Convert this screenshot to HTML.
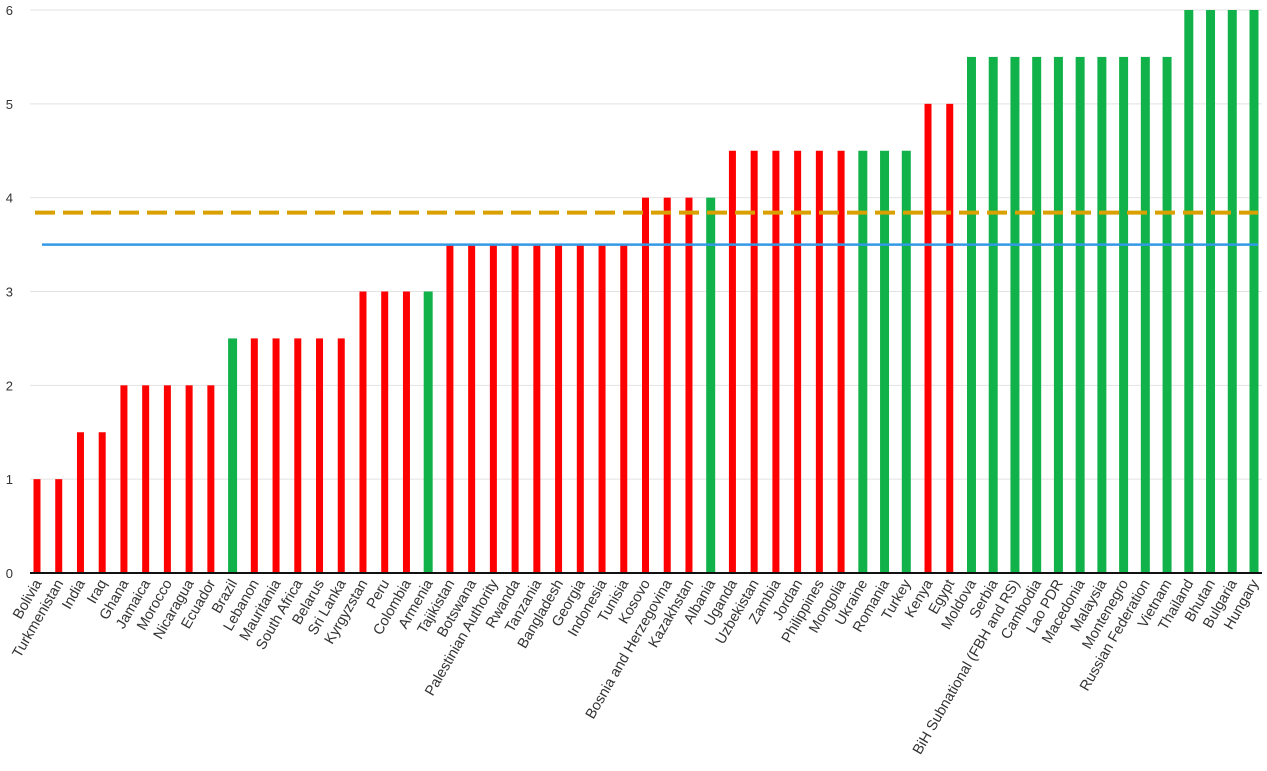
<!DOCTYPE html>
<html><head><meta charset="utf-8"><style>
html,body{margin:0;padding:0;background:#fff;}
svg{display:block;font-family:"Liberation Sans",sans-serif;}
</style></head><body>
<svg id="chart" width="1267" height="771" viewBox="0 0 1267 771"></svg>
<script>
const categories=["Bolivia","Turkmenistan","India","Iraq","Ghana","Jamaica","Morocco","Nicaragua","Ecuador","Brazil","Lebanon","Mauritania","South Africa","Belarus","Sri Lanka","Kyrgyzstan","Peru","Colombia","Armenia","Tajikistan","Botswana","Palestinian Authority","Rwanda","Tanzania","Bangladesh","Georgia","Indonesia","Tunisia","Kosovo","Bosnia and Herzegovina","Kazakhstan","Albania","Uganda","Uzbekistan","Zambia","Jordan","Philippines","Mongolia","Ukraine","Romania","Turkey","Kenya","Egypt","Moldova","Serbia","BiH Subnational (FBH and RS)","Cambodia","Lao PDR","Macedonia","Malaysia","Montenegro","Russian Federation","Vietnam","Thailand","Bhutan","Bulgaria","Hungary"];
const values=[1,1,1.5,1.5,2,2,2,2,2,2.5,2.5,2.5,2.5,2.5,2.5,3,3,3,3,3.5,3.5,3.5,3.5,3.5,3.5,3.5,3.5,3.5,4,4,4,4,4.5,4.5,4.5,4.5,4.5,4.5,4.5,4.5,4.5,5,5,5.5,5.5,5.5,5.5,5.5,5.5,5.5,5.5,5.5,5.5,6,6,6,6];
const groupFlags=["r","r","r","r","r","r","r","r","r","g","r","r","r","r","r","r","r","r","g","r","r","r","r","r","r","r","r","r","r","r","r","g","r","r","r","r","r","r","g","g","g","r","r","g","g","g","g","g","g","g","g","g","g","g","g","g","g"];
const yTicks=[0,1,2,3,4,5,6];
const refDashed=3.84;
const refSolid=3.5;

const svg=document.getElementById('chart');
const NS='http://www.w3.org/2000/svg';
const y0=573,yTop=10,yMax=6;
const x0=37,x1=1254;
function yScale(v){return y0-(y0-yTop)*v/yMax;}
function xScale(i){return x0+(x1-x0)*i/(categories.length-1);}
function mk(t,a){const e=document.createElementNS(NS,t);for(const k in a)e.setAttribute(k,a[k]);svg.appendChild(e);return e;}

yTicks.forEach(t=>{
  if(t>0){const g=mk('line',{x1:30,x2:1262,y1:yScale(t),y2:yScale(t),stroke:'#e2e2e2','stroke-width':1});
  
  }
  const l=mk('text',{x:13,y:yScale(t)+5,'text-anchor':'end','font-size':13,fill:'#333'});
  l.textContent=t;
  
  
});

categories.forEach((c,i)=>{
  const green=groupFlags[i]==='g';
  const w=green?9:7;
  const r=mk('rect',{x:xScale(i)-w/2,y:yScale(values[i]),width:w,height:y0-yScale(values[i]),fill:green?'#12b24b':'#fe0000'});
  
  
  const tx=xScale(i)+5, ty=583;
  const t=mk('text',{x:tx,y:ty,'text-anchor':'end','font-size':14.5,fill:'#333',transform:`rotate(-60 ${tx} ${ty})`});
  t.textContent=c;
  
  
});

const ax=mk('line',{x1:30,x2:1262,y1:y0,y2:y0,stroke:'#111','stroke-width':2});



const ls=mk('line',{x1:42,x2:1258,y1:yScale(refSolid),y2:yScale(refSolid),stroke:'#3399e6','stroke-width':2.5});


const ld=mk('line',{x1:35,x2:1258,y1:yScale(refDashed),y2:yScale(refDashed),stroke:'#d9a000','stroke-width':4,'stroke-dasharray':'20 8'});


</script>
</body></html>
